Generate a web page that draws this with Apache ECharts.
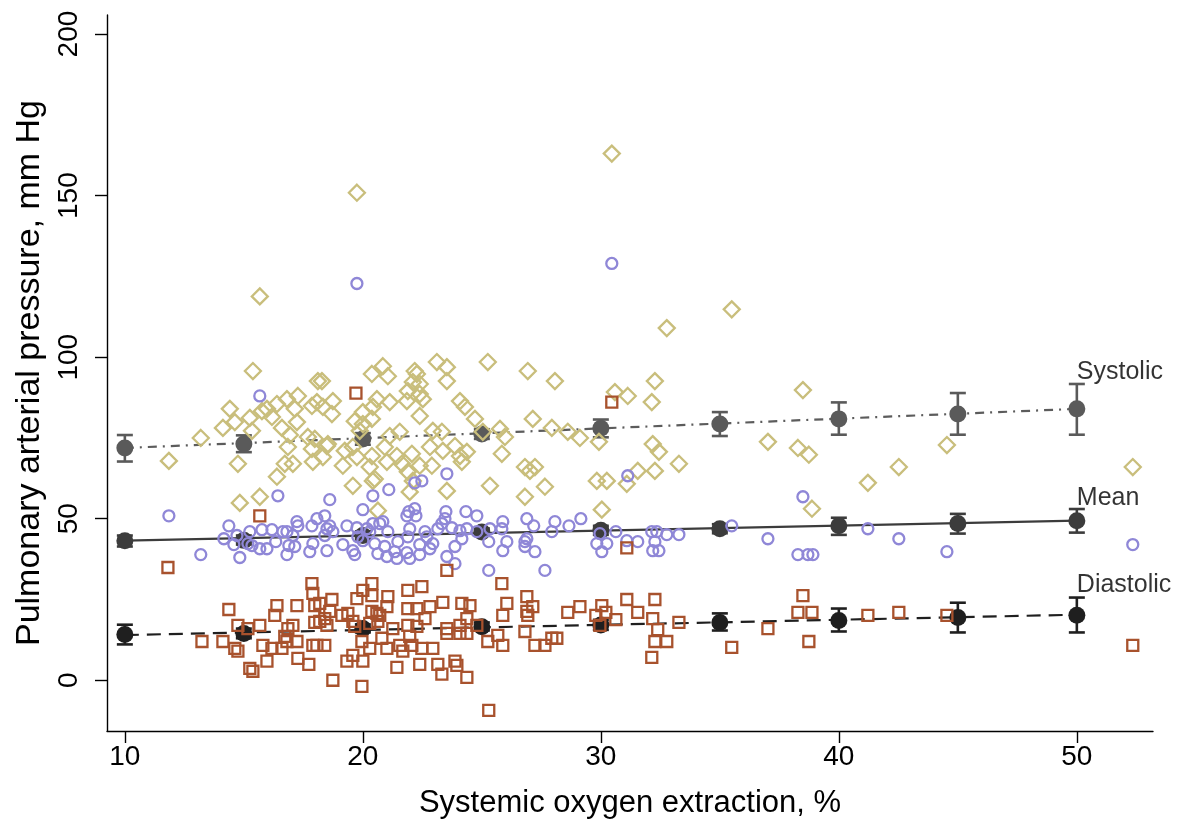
<!DOCTYPE html>
<html>
<head>
<meta charset="utf-8">
<script src="https://cdn.jsdelivr.net/npm/echarts@6/dist/echarts.min.js"></script>
<style>
  html, body { margin: 0; padding: 0; background: #fff; }
  #chart { width: 1179px; height: 824px; }
</style>
</head>
<body>
<div id="chart"></div>
<script>
// individual observations [extraction %, pressure mmHg]
const systolicPts = [
  [11.85,67.9],[13.19,75.0],[14.41,84.0],[14.62,79.9],[14.12,78.1],[14.75,67.0],[15.38,95.7],[15.25,81.2],
  [15.34,77.2],[15.76,83.3],[15.97,84.0],[16.18,81.5],[16.39,85.5],[16.81,87.0],[17.27,88.0],[16.60,78.1],
  [16.93,75.9],[17.23,79.9],[17.14,84.0],[16.85,72.2],[16.72,67.0],[17.06,67.0],[16.39,63.0],[15.67,56.8],
  [14.83,54.9],[17.86,84.9],[18.07,86.1],[18.11,92.6],[17.69,75.3],[17.98,74.7],[17.86,71.6],[17.90,67.6],
  [15.67,118.8],[18.28,92.6],[20.84,97.2],[20.38,94.8],[21.05,94.1],[22.18,95.7],[22.27,94.8],[22.10,92.3],
  [22.39,91.7],[23.11,98.5],[23.53,96.9],[23.53,92.6],[25.25,98.5],[18.74,86.4],[18.32,84.6],[18.70,82.4],
  [20.59,87.0],[20.42,84.6],[20.00,83.0],[19.66,80.2],[20.00,79.3],[19.87,77.2],[20.38,80.9],[21.13,86.1],
  [21.89,89.5],[21.85,86.4],[22.39,88.6],[22.52,87.0],[22.39,81.8],[24.08,86.4],[24.29,84.6],[24.71,80.9],
  [21.55,76.9],[21.13,75.6],[22.94,77.2],[23.32,76.9],[25.04,76.9],[25.76,77.8],[25.97,75.3],[18.49,72.5],
  [18.32,69.1],[18.53,73.1],[19.24,71.0],[19.58,72.2],[19.75,69.1],[19.16,66.4],[20.38,69.4],[20.29,66.0],
  [20.50,62.3],[20.92,72.2],[21.01,67.6],[21.43,69.4],[21.64,67.0],[22.06,70.1],[21.89,64.5],[22.10,61.7],
  [22.39,66.4],[22.82,72.2],[22.90,66.4],[23.36,71.0],[23.87,72.5],[24.08,69.4],[24.16,67.6],[24.37,70.7],
  [25.84,70.1],[19.58,60.2],[20.42,61.7],[21.97,58.3],[23.53,58.6],[25.34,60.2],[20.63,52.5],[19.75,150.9],
  [26.93,95.7],[28.07,92.6],[32.27,92.6],[30.59,89.2],[31.13,88.0],[32.14,86.1],[27.14,80.9],[27.94,78.1],
  [28.61,76.9],[29.12,75.0],[29.92,73.8],[32.18,73.1],[32.44,70.7],[33.28,67.0],[26.81,66.0],[27.02,64.8],
  [27.23,66.0],[27.65,59.9],[26.81,56.8],[29.83,61.7],[30.25,61.7],[31.09,60.8],[31.55,64.8],[32.27,64.8],
  [30.04,52.8],[32.77,109.0],[30.46,163.0],[35.50,114.8],[38.49,89.8],[37.02,73.8],[38.28,71.9],[38.74,69.8],
  [42.52,66.0],[41.22,61.1],[44.54,72.8],[38.87,53.1],[52.35,66.0]
];

const meanPts = [
  [11.85,50.9],[16.43,57.1],[18.61,55.9],[14.37,47.8],[14.16,43.8],[14.71,44.8],[14.58,42.0],[13.19,38.9],
  [14.83,38.0],[15.25,46.0],[15.17,42.3],[15.34,41.7],[15.76,46.6],[16.18,46.6],[15.67,40.7],[15.97,40.7],
  [16.34,42.9],[16.64,46.0],[16.81,46.0],[17.06,44.8],[17.23,49.1],[17.27,47.8],[16.89,41.7],[16.81,38.9],
  [17.14,41.4],[17.77,39.8],[17.90,42.3],[17.86,47.8],[18.07,50.0],[18.40,50.9],[18.49,46.9],[18.40,44.8],
  [18.49,40.1],[15.67,88.0],[20.42,57.1],[21.09,59.0],[22.18,61.1],[20.00,52.8],[21.93,52.2],[22.18,53.1],
  [22.23,50.9],[21.85,50.9],[23.49,52.2],[24.33,52.2],[24.79,50.9],[26.89,50.0],[18.61,47.8],[18.74,46.0],
  [19.33,47.8],[19.16,42.0],[19.75,47.2],[19.79,44.4],[19.58,40.1],[19.66,38.9],[20.17,46.9],[20.00,43.2],
  [20.42,48.5],[20.29,46.0],[20.71,48.5],[20.50,42.3],[20.84,49.1],[21.05,46.0],[20.63,39.2],[20.92,41.4],
  [21.01,38.3],[21.34,39.8],[21.47,42.9],[21.43,37.7],[21.85,39.5],[21.97,37.7],[21.97,46.9],[21.89,44.4],
  [22.39,42.0],[22.39,38.9],[22.61,46.0],[22.69,44.4],[22.82,40.7],[22.94,42.3],[23.15,46.9],[23.32,48.5],
  [23.45,50.0],[23.74,47.2],[23.87,41.4],[23.53,38.3],[23.87,36.1],[24.08,46.3],[24.16,43.8],[24.37,46.9],
  [24.79,46.0],[25.34,46.9],[25.29,42.9],[25.88,49.1],[25.84,46.9],[26.05,42.9],[25.88,40.1],[26.81,41.4],
  [26.89,43.8],[25.29,34.0],[23.53,63.9],[22.48,61.7],[27.18,47.8],[28.07,49.1],[27.94,46.0],[28.66,47.8],
  [29.16,50.0],[26.81,42.9],[27.23,39.8],[27.65,34.0],[29.96,45.4],[29.83,42.3],[30.25,42.3],[30.04,39.8],
  [30.63,46.0],[31.09,43.2],[31.55,42.9],[32.14,46.0],[32.35,46.0],[32.27,42.9],[32.18,40.1],[32.44,40.1],
  [32.77,45.1],[33.28,45.1],[31.13,63.3],[38.49,56.8],[35.50,47.8],[37.02,43.8],[38.28,38.9],[38.70,38.9],
  [38.91,38.9],[41.22,46.9],[42.52,43.8],[44.54,39.8],[52.35,42.0],[19.75,122.8],[30.46,129.0]
];

const diastolicPts = [
  [11.81,34.9],[15.67,50.9],[14.37,21.9],[14.75,17.0],[15.17,16.0],[15.67,17.0],[13.24,12.0],[14.12,12.0],
  [14.62,9.9],[14.75,9.0],[15.25,3.7],[15.38,2.8],[15.80,10.8],[16.18,9.9],[16.60,9.9],[15.97,5.9],
  [16.39,23.1],[16.30,20.1],[17.23,23.1],[17.86,29.9],[17.90,26.9],[17.98,23.1],[16.85,16.0],[17.06,17.0],
  [16.72,13.6],[16.81,12.0],[17.23,12.0],[17.27,6.8],[17.73,4.9],[17.98,17.9],[17.90,10.8],[18.07,10.8],
  [20.38,29.9],[20.00,27.8],[19.75,25.3],[18.70,25.0],[20.38,26.2],[21.05,25.9],[21.89,27.8],[22.48,29.0],
  [23.53,34.0],[18.19,23.8],[18.61,21.3],[18.40,19.1],[19.12,20.1],[19.37,20.7],[20.38,21.3],[20.59,20.7],
  [20.71,20.1],[21.01,22.8],[21.89,22.2],[22.27,22.2],[22.82,22.8],[23.36,24.1],[24.16,23.8],[24.50,23.1],
  [25.84,29.9],[26.05,23.8],[25.88,20.1],[18.19,18.2],[18.49,17.0],[19.58,18.2],[19.66,16.7],[20.29,17.6],
  [20.63,18.2],[21.26,16.0],[21.89,17.0],[22.27,16.7],[22.61,19.1],[23.53,16.0],[24.08,17.0],[24.37,19.1],
  [24.79,17.0],[24.37,14.5],[18.40,10.8],[19.96,12.0],[20.29,9.9],[20.80,13.0],[21.01,9.9],[21.55,10.8],
  [21.68,9.0],[21.97,13.6],[22.06,10.8],[22.48,9.9],[22.94,9.9],[23.53,14.5],[24.08,14.5],[25.25,12.0],
  [25.67,13.9],[25.88,10.8],[19.33,5.9],[19.58,7.7],[20.00,5.9],[21.43,4.0],[22.39,4.9],[23.15,4.9],
  [23.87,5.9],[23.95,4.6],[23.32,1.9],[24.37,0.9],[18.74,0.0],[19.96,-1.9],[25.29,-9.3],[19.71,88.9],
  [26.89,25.9],[27.14,22.8],[26.89,21.3],[26.93,20.1],[26.81,15.1],[27.23,10.8],[27.65,10.8],[27.94,13.0],
  [28.15,13.0],[28.61,21.0],[29.12,22.8],[30.04,23.1],[29.79,20.1],[30.21,21.0],[30.63,18.8],[29.96,17.0],
  [31.09,25.0],[31.55,21.0],[32.27,25.0],[32.18,19.1],[32.39,15.7],[33.28,17.9],[32.27,12.0],[32.77,12.0],
  [32.14,7.1],[31.09,41.0],[30.46,86.1],[38.49,26.2],[38.28,21.0],[38.87,21.0],[37.02,16.0],[35.50,10.2],
  [38.74,12.0],[41.22,20.1],[42.52,21.0],[44.54,20.1],[52.35,10.8]
];

// group summaries: extraction bins with mean and error bar limits
const binX = [10, 15, 20, 25, 30, 35, 40, 45, 50];
const sysMean = [71.9, 73.1, 74.7, 76.2, 78.0, 79.3, 80.9, 82.4, 84.0];
const sysLo   = [67.7, 70.6, 72.9, 74.7, 75.2, 75.6, 76.0, 76.0, 76.0];
const sysHi   = [75.9, 75.8, 76.5, 77.7, 80.7, 83.0, 86.0, 88.9, 91.7];
const mapMean = [43.2, 43.3, 44.8, 45.9, 46.4, 46.9, 47.8, 48.5, 49.4];
const mapLo   = [41.4, 42.0, 43.6, 44.8, 45.0, 45.5, 45.0, 45.4, 45.7];
const mapHi   = [44.8, 44.8, 46.1, 47.0, 47.8, 48.3, 50.3, 51.5, 53.0];
const diaMean = [14.2, 14.5, 16.0, 16.6, 17.1, 17.9, 18.5, 19.4, 20.1];
const diaLo   = [11.1, 13.0, 14.8, 15.4, 15.6, 15.4, 15.1, 14.8, 14.8];
const diaHi   = [17.2, 16.0, 17.3, 17.9, 18.7, 20.7, 22.2, 24.0, 25.6];

// fitted lines (x from 10 to 50)
const fitX = [10, 50];
const sysFit = [71.9, 84.0];
const mapFit = [43.2, 49.4];
const diaFit = [14.0, 20.3];

const xTicks = [10, 20, 30, 40, 50];
const yTicks = [0, 50, 100, 150, 200];
const lineLabels = [['Systolic', 95.4], ['Mean', 56.5], ['Diastolic', 29.3]];

const FONT = 'Liberation Sans, Helvetica, Arial, sans-serif';

const chart = echarts.init(document.getElementById('chart'));

function pairs(xs, ys) {
  return xs.map((x, i) => [x, ys[i]]);
}

function errBars(name, lo, hi, color) {
  return {
    name: name,
    type: 'custom',
    z: 3,
    data: binX.map((x, i) => [x, lo[i], hi[i]]),
    encode: { x: 0, y: [1, 2] },
    renderItem: function (params, api) {
      const top = api.coord([api.value(0), api.value(2)]);
      const bot = api.coord([api.value(0), api.value(1)]);
      const w = 8;
      const st = { stroke: color, lineWidth: 2.6 };
      return {
        type: 'group',
        children: [
          { type: 'line', shape: { x1: top[0], y1: top[1], x2: bot[0], y2: bot[1] }, style: st },
          { type: 'line', shape: { x1: top[0] - w, y1: top[1], x2: top[0] + w, y2: top[1] }, style: st },
          { type: 'line', shape: { x1: bot[0] - w, y1: bot[1], x2: bot[0] + w, y2: bot[1] }, style: st }
        ]
      };
    }
  };
}

function fitLine(ys, color, type) {
  return {
    type: 'line',
    data: pairs(fitX, ys),
    showSymbol: false,
    z: 2,
    lineStyle: { color: color, width: 2.2, type: type },
    silent: true
  };
}

function summary(ys, color) {
  return {
    type: 'scatter',
    data: pairs(binX, ys),
    symbol: 'circle',
    symbolSize: 17,
    z: 4,
    itemStyle: { color: color, opacity: 1 }
  };
}

function obs(pts, symbol, size, color) {
  return {
    type: 'scatter',
    data: pts,
    symbol: symbol,
    symbolSize: size,
    z: 5,
    itemStyle: { color: 'rgba(0,0,0,0)', borderColor: color, borderWidth: 2.3, opacity: 1 }
  };
}

chart.setOption({
  animation: false,
  backgroundColor: '#fff',
  grid: { left: 107, right: 26, top: 15, bottom: 91, containLabel: false },
  xAxis: {
    type: 'value',
    min: 9.25,
    max: 53.2,
    splitLine: { show: false },
    axisLine: { onZero: false, lineStyle: { color: '#000', width: 1.4 } },
    axisTick: { customValues: xTicks, length: 12, lineStyle: { color: '#000', width: 1.4 } },
    axisLabel: { customValues: xTicks, color: '#000', fontSize: 28, fontFamily: FONT, margin: 12 },
    name: 'Systemic oxygen extraction, %',
    nameLocation: 'middle',
    nameGap: 57,
    nameTextStyle: { color: '#000', fontSize: 31, fontFamily: FONT }
  },
  yAxis: {
    type: 'value',
    min: -15.7,
    max: 205.9,
    splitLine: { show: false },
    axisLine: { show: true, onZero: false, lineStyle: { color: '#000', width: 1.4 } },
    axisTick: { show: true, customValues: yTicks, length: 12, lineStyle: { color: '#000', width: 1.4 } },
    axisLabel: { customValues: yTicks, color: '#000', fontSize: 28, fontFamily: FONT, rotate: 90, margin: 24 },
    name: 'Pulmonary arterial pressure, mm Hg',
    nameLocation: 'middle',
    nameGap: 60,
    nameTextStyle: { color: '#000', fontSize: 34, fontFamily: FONT }
  },
  series: [
    fitLine(sysFit, '#5c5c5c', [9, 6, 2, 6]),
    fitLine(mapFit, '#3c3c3c', 'solid'),
    fitLine(diaFit, '#1f1f1f', [14, 8]),
    errBars('sysErr', sysLo, sysHi, '#5a5a5a'),
    errBars('mapErr', mapLo, mapHi, '#3c3c3c'),
    errBars('diaErr', diaLo, diaHi, '#1f1f1f'),
    summary(sysMean, '#5a5a5a'),
    summary(mapMean, '#3c3c3c'),
    summary(diaMean, '#1f1f1f'),
    obs(systolicPts, 'diamond', 16, '#c9be7c'),
    obs(meanPts, 'circle', 11, '#8f87d7'),
    obs(diastolicPts, 'rect', 11, '#a8522d'),
    {
      type: 'scatter',
      data: lineLabels.map(d => ({ value: [50, d[1]], name: d[0] })),
      symbolSize: 0,
      silent: true,
      z: 6,
      label: {
        show: true,
        position: 'right',
        distance: 0,
        formatter: '{b}',
        color: '#000',
        fontSize: 25,
        fontFamily: FONT
      }
    }
  ]
});
</script>
</body>
</html>
